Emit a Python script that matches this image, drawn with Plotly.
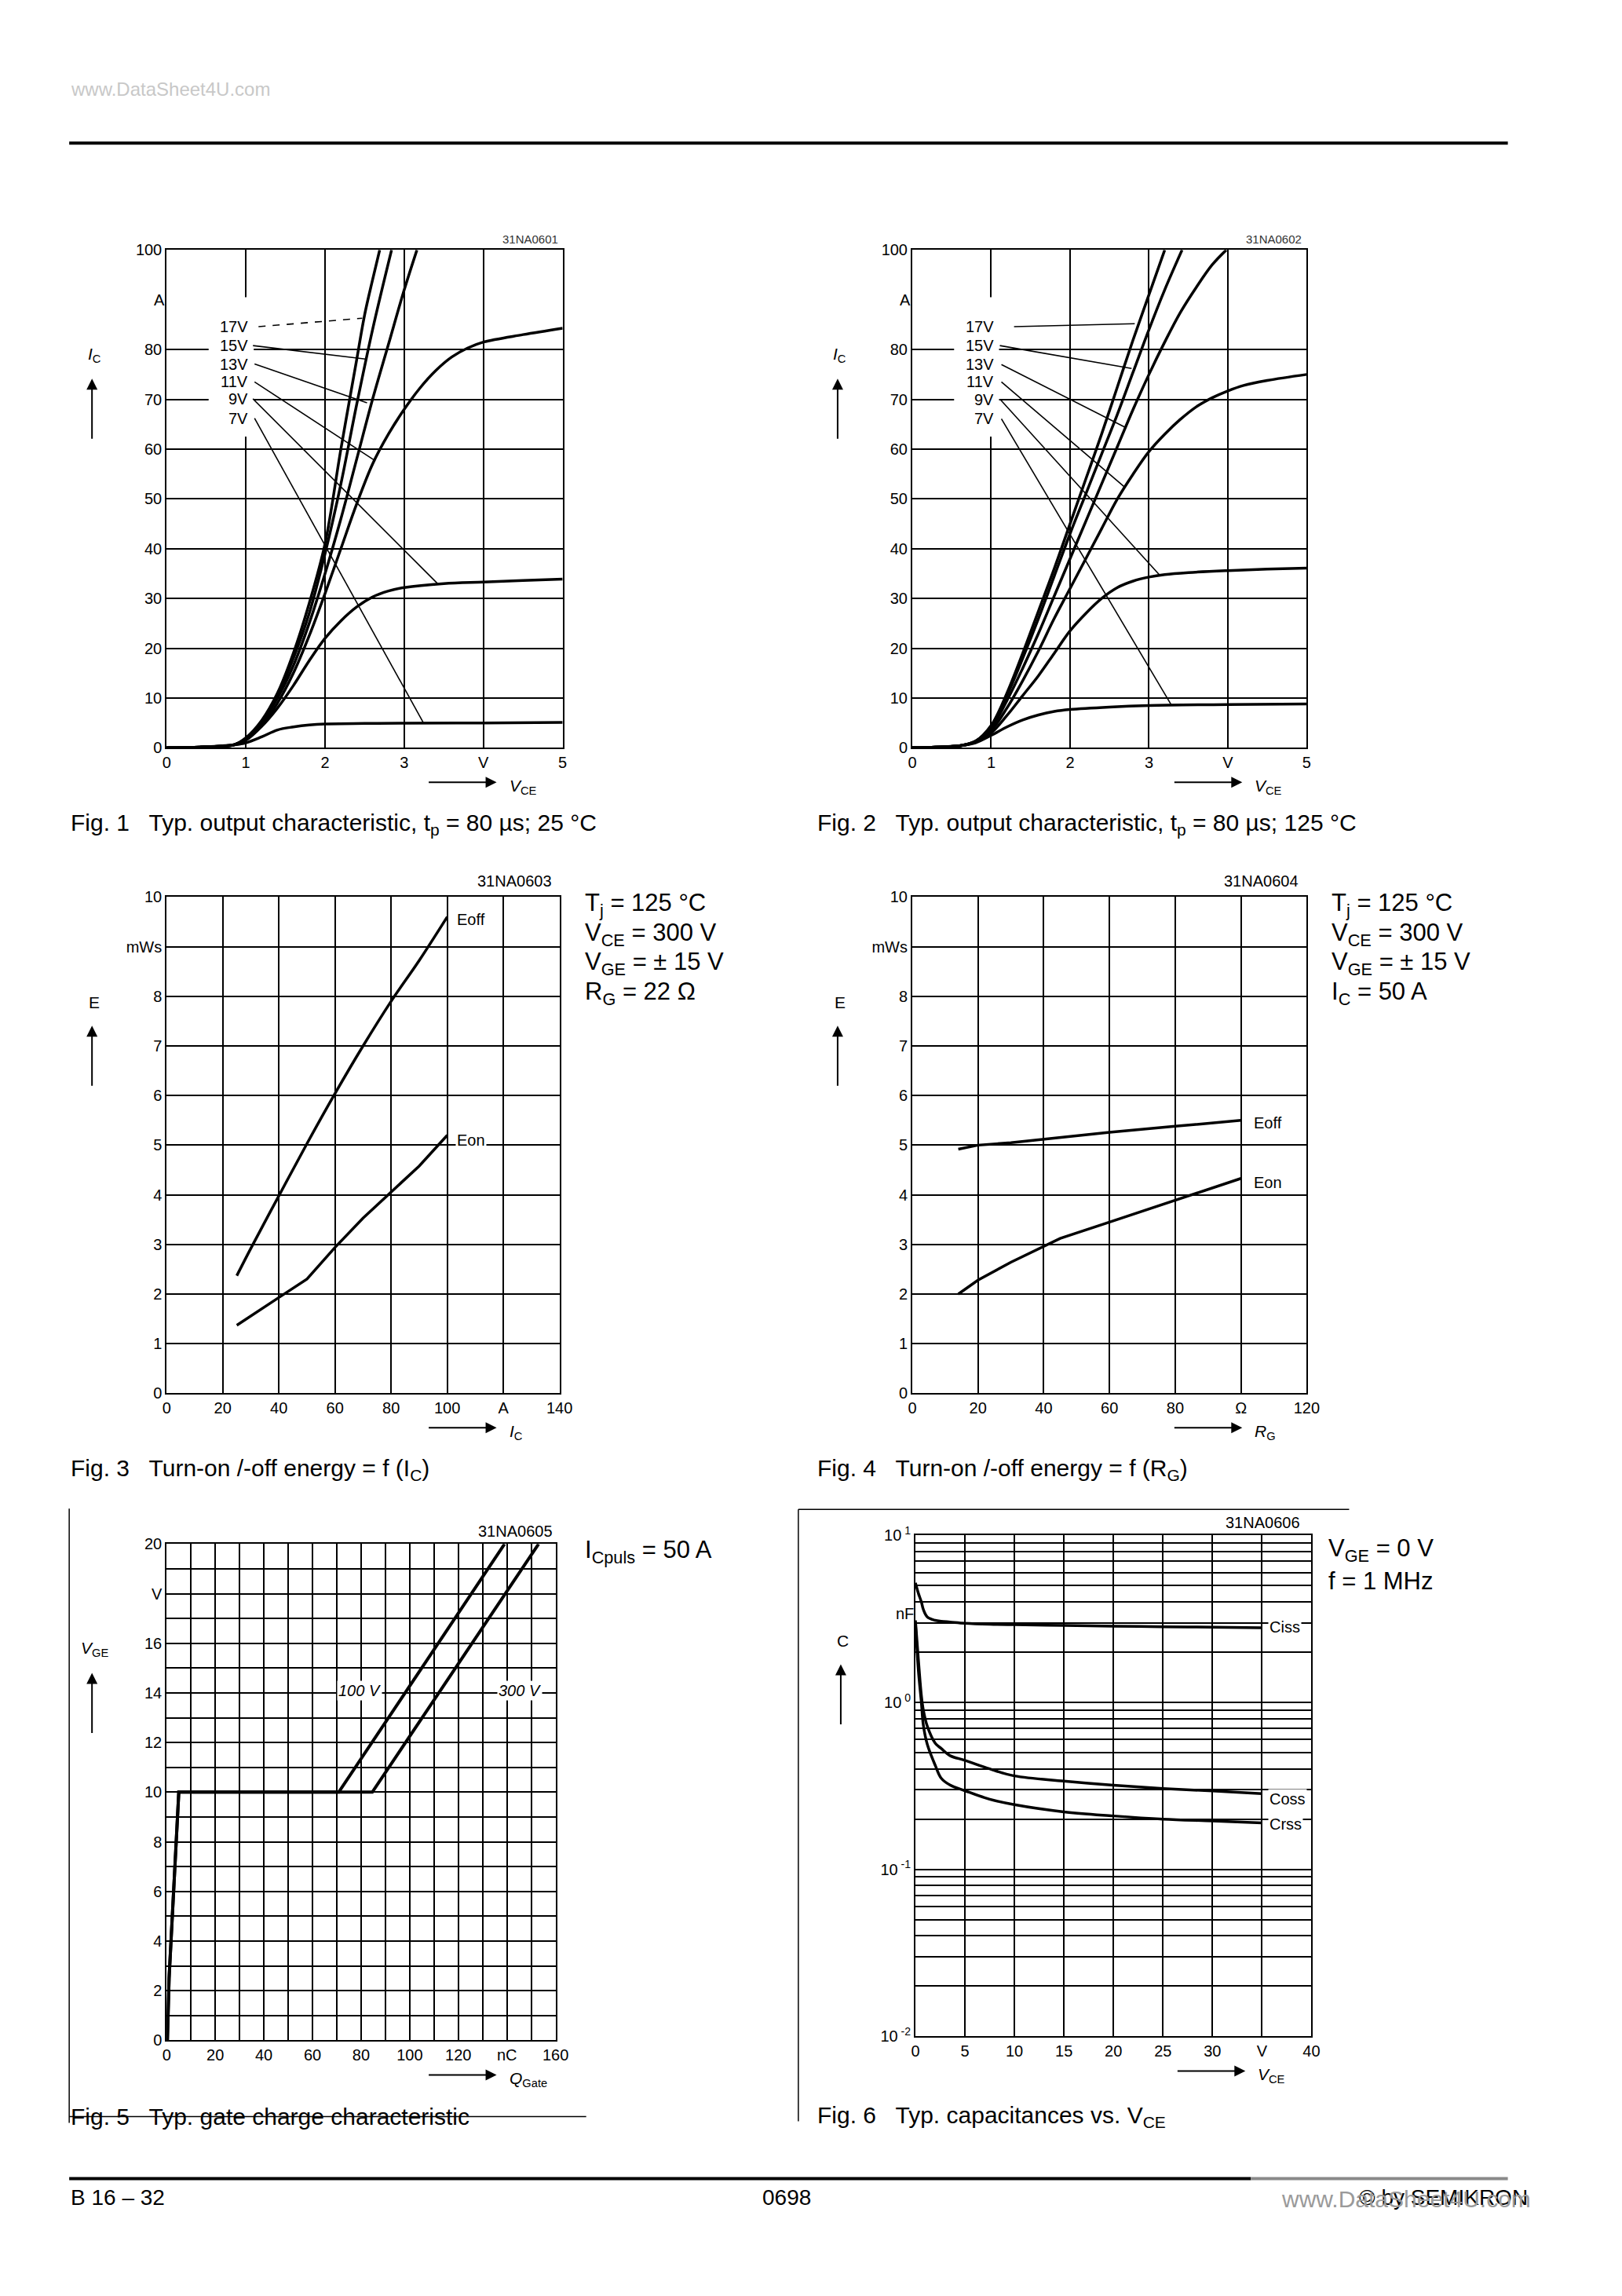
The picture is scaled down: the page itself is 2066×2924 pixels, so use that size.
import plotly.graph_objects as go

W, H = 2066, 2924
OFF = 8                      # default body margin of the html page
FW, FH = W - 2 * OFF, H - 2 * OFF
# measured page -> screenshot mapping (screen = A + S * page)
SX, AX = 0.988, 8.0
SY, AY = 0.9914, 12.7
FONT = "Liberation Sans, Arial, Helvetica, sans-serif"
NARROW = "Liberation Sans Narrow, Liberation Sans, Arial, sans-serif"

# ============================================================================
# DATA
# ============================================================================

# Fig. 1 - output characteristic, 25 degC  (V_CE in V, I_C in A)
VGE_LABELS = ["17V", "15V", "13V", "11V", "9V", "7V"]

F1_V17 = [0, 0.5, 0.85, 1.0, 1.2, 1.4, 1.6, 1.8, 2.0, 2.2, 2.4, 2.5, 2.6, 2.69]
F1_I17 = [0, 0.2, 0.6, 2.0, 5.5, 11, 19, 29, 41, 60, 78, 87, 94, 100]
F1_V15 = [0, 0.5, 0.85, 1.0, 1.2, 1.4, 1.6, 1.8, 2.0, 2.2, 2.4, 2.6, 2.84]
F1_I15 = [0, 0.2, 0.6, 1.9, 5.2, 10.5, 18, 27, 39, 53, 69, 84, 100]
F1_V13 = [0, 0.5, 0.85, 1.0, 1.2, 1.4, 1.6, 1.8, 2.0, 2.2, 2.4, 2.6, 2.8, 3.0, 3.16]
F1_I13 = [0, 0.2, 0.6, 1.8, 5, 10, 16.5, 25, 35, 46, 58, 70, 81, 92, 100]
F1_V11 = [0, 0.5, 0.85, 1.0, 1.2, 1.4, 1.6, 1.8, 2.0, 2.2, 2.4, 2.6, 2.8, 3.0, 3.2, 3.4,
          3.6, 3.8, 4.0, 4.5, 5.0]
F1_I11 = [0, 0.2, 0.6, 1.7, 4.5, 9, 15, 22.5, 31, 40, 49, 57, 63, 68, 72.3, 75.8,
          78.5, 80.3, 81.5, 83, 84.3]
F1_V9 = [0, 0.5, 0.85, 1.0, 1.2, 1.4, 1.6, 1.8, 2.0, 2.2, 2.4, 2.6, 2.8, 3.0, 3.5, 4.0, 4.5, 5.0]
F1_I9 = [0, 0.2, 0.6, 1.5, 4.3, 8, 12.5, 17.5, 22, 25.5, 28.3, 30.3, 31.5, 32.2, 33, 33.3, 33.6, 33.9]
F1_V7 = [0, 0.5, 0.85, 1.0, 1.2, 1.4, 1.6, 1.8, 2.0, 2.5, 3.0, 4.0, 5.0]
F1_I7 = [0, 0.2, 0.6, 1.0, 2.2, 3.6, 4.2, 4.6, 4.8, 4.9, 4.95, 5.0, 5.1]

# label leader lines (from label to curve), fig. 1
F1_LEAD_X0 = [1.16, 1.09, 1.11, 1.11, 1.09, 1.11]
F1_LEAD_Y0 = [84.6, 80.8, 77.1, 73.5, 70.1, 66.2]
F1_LEAD_X1 = [2.47, 2.51, 2.53, 2.62, 3.42, 3.24]
F1_LEAD_Y1 = [86.3, 78.1, 69.3, 57.8, 33.0, 5.1]

# Fig. 2 - output characteristic, 125 degC
F2_V17 = [0, 0.3, 0.6, 0.8, 1.0, 1.2, 1.4, 1.6, 1.8, 2.0, 2.2, 2.4, 2.6, 2.8, 3.0, 3.2]
F2_I17 = [0, 0.15, 0.4, 1.3, 4.5, 11, 19, 27.5, 36, 45, 54, 63, 72.5, 82, 91, 100]
F2_V15 = [0, 0.3, 0.6, 0.8, 1.0, 1.2, 1.4, 1.6, 1.8, 2.0, 2.2, 2.4, 2.6, 2.8, 3.0, 3.2, 3.42]
F2_I15 = [0, 0.15, 0.4, 1.3, 4.3, 10.5, 18, 26, 34.5, 43, 51, 59, 67, 75.5, 84, 92, 100]
F2_V13 = [0, 0.3, 0.6, 0.8, 1.0, 1.2, 1.4, 1.6, 1.8, 2.0, 2.2, 2.4, 2.6, 2.8, 3.0, 3.2, 3.4,
          3.6, 3.8, 3.98]
F2_I13 = [0, 0.15, 0.4, 1.3, 4, 9.5, 16, 23, 30.5, 38, 45.5, 53, 60.5, 68, 75, 81.5, 87.5,
          92.5, 97, 100]
F2_V11 = [0, 0.3, 0.6, 0.8, 1.0, 1.2, 1.4, 1.6, 1.8, 2.0, 2.2, 2.4, 2.6, 2.8, 3.0, 3.2, 3.4,
          3.6, 3.8, 4.0, 4.2, 4.5, 5.0]
F2_I11 = [0, 0.15, 0.4, 1.3, 3.5, 8, 13.5, 19.5, 26, 32, 38, 44, 50, 55, 59.5, 63, 66,
          68.5, 70.3, 71.7, 72.8, 73.8, 75]
F2_V9 = [0, 0.3, 0.6, 0.8, 1.0, 1.2, 1.4, 1.6, 1.8, 2.0, 2.2, 2.4, 2.6, 2.8, 3.0, 3.2, 3.5,
         4.0, 4.5, 5.0]
F2_I9 = [0, 0.15, 0.4, 1.2, 3, 6.5, 10.5, 14.5, 19, 23.5, 27, 30, 32.2, 33.5, 34.3, 34.8, 35.2,
         35.6, 35.9, 36.1]
F2_V7 = [0, 0.3, 0.6, 0.8, 1.0, 1.2, 1.4, 1.6, 1.8, 2.0, 2.5, 3.0, 4.0, 5.0]
F2_I7 = [0, 0.15, 0.4, 1.0, 2.5, 4.2, 5.6, 6.6, 7.3, 7.7, 8.2, 8.5, 8.7, 8.8]

F2_LEAD_X0 = [1.29, 1.11, 1.13, 1.13, 1.12, 1.13]
F2_LEAD_Y0 = [84.6, 80.8, 77.0, 73.5, 69.9, 66.1]
F2_LEAD_X1 = [2.82, 2.78, 2.71, 2.69, 3.13, 3.28]
F2_LEAD_Y1 = [85.2, 76.2, 64.3, 52.4, 34.8, 8.7]

# Fig. 3 - switching energy vs I_C (A, mWs)
F3_IC = [25, 30, 40, 50, 60, 70, 80, 90, 100]
F3_EOFF = [2.37, 2.92, 3.98, 5.03, 6.04, 7.0, 7.9, 8.72, 9.6]
F3_EON = [1.37, 1.56, 1.93, 2.3, 2.94, 3.53, 4.05, 4.58, 5.2]

# Fig. 4 - switching energy vs R_G (Ohm, mWs)
F4_RG = [14, 20, 30, 40, 45, 60, 80, 100]
F4_EOFF = [4.92, 5.0, 5.05, 5.12, 5.15, 5.26, 5.38, 5.5]
F4_EON = [2.0, 2.28, 2.64, 2.96, 3.12, 3.45, 3.89, 4.33]

# Fig. 5 - gate charge (nC, V)
F5_Q100 = [0, 0.3, 1, 3, 5, 70.8, 139]
F5_V100 = [0, 0, 2.5, 6, 10, 10, 20]
F5_Q300 = [0, 0.3, 1, 3, 5, 84.6, 153]
F5_V300 = [0, 0, 2.5, 6, 10, 10, 20]

# Fig. 6 - capacitances (V, nF)
F6_VCE = [0, 0.3, 0.6, 0.8, 1.2, 2, 2.6, 3.5, 5, 7.5, 10, 15, 20, 25, 30, 35]
F6_CISS = [5.2, 4.5, 4.0, 3.6, 3.25, 3.1, 3.06, 3.03, 2.98, 2.94, 2.92, 2.89, 2.86, 2.84, 2.82, 2.8]
F6_COSS = [3.1, 1.8, 1.1, 0.9, 0.72, 0.57, 0.53, 0.48, 0.45, 0.4, 0.363, 0.338, 0.319, 0.305, 0.295, 0.284]
F6_CRSS = [3.0, 1.55, 1.0, 0.73, 0.56, 0.42, 0.352, 0.32, 0.296, 0.263, 0.244, 0.221, 0.209, 0.2, 0.195, 0.19]

# tick labels
F12_XT = [0, 1, 2, 3, 4, 5]
F12_XL = ["0", "1", "2", "3", "V", "5"]
F12_YT = [0, 10, 20, 30, 40, 50, 60, 70, 80, 100]
F12_YL = ["0", "10", "20", "30", "40", "50", "60", "70", "80", "100"]
F3_XT = [0, 20, 40, 60, 80, 100, 120, 140]
F3_XL = ["0", "20", "40", "60", "80", "100", "A", "140"]
F4_XT = [0, 20, 40, 60, 80, 100, 120]
F4_XL = ["0", "20", "40", "60", "80", "Ω", "120"]
F34_YT = [0, 1, 2, 3, 4, 5, 6, 7, 8, 9, 10]
F34_YL = ["0", "1", "2", "3", "4", "5", "6", "7", "8", "mWs", "10"]
F5_XT = list(range(0, 161, 10))
F5_XL = ["0", "", "20", "", "40", "", "60", "", "80", "", "100", "", "120", "", "nC", "", "160"]
F5_YT = list(range(0, 21))
F5_YL = ["0", "", "2", "", "4", "", "6", "", "8", "", "10", "", "12", "", "14", "", "16", "",
         "V", "", "20"]
F6_XT = [0, 5, 10, 15, 20, 25, 30, 35, 40]
F6_XL = ["0", "5", "10", "15", "20", "25", "30", "V", "40"]
F6_YT = [m * d for d in (0.01, 0.1, 1) for m in range(1, 10)] + [10]
F6_YL = [("10<sup> %d</sup>" % e if m == 1 else "") for e in (-2, -1, 0) for m in range(1, 10)] + ["10<sup> 1</sup>"]

# ============================================================================
# HELPERS
# ============================================================================

BOXES = {
    1: (214, 317, 718, 951),
    2: (1163, 317, 1665, 951),
    3: (214, 1141, 714, 1773),
    4: (1163, 1141, 1665, 1773),
    5: (214, 1965, 709, 2597),
    6: (1167, 1954, 1671, 2592),
}


def px(x):
    return ((x - AX) / SX - OFF) / FW


def py(y):
    return 1 - ((y - AY) / SY - OFF) / FH


def sfx(n):
    return "" if n == 1 else str(n)


def add_axes(fig, n, xr, yr, xt, xl, yt, yl, ylog=False, gw=2.0):
    l, t, r, b = BOXES[n]
    common = dict(showline=True, mirror=True, linecolor="black", linewidth=2,
                  ticks="", zeroline=False, showgrid=True, gridcolor="black",
                  gridwidth=gw, tickmode="array", fixedrange=True,
                  tickfont=dict(family=FONT, size=20, color="black"))
    fig.update_layout({
        f"xaxis{sfx(n)}": dict(domain=[px(l), px(r)], range=xr, anchor=f"y{sfx(n)}",
                               tickvals=xt, ticktext=xl, **common),
        f"yaxis{sfx(n)}": dict(domain=[py(b), py(t)], range=yr, anchor=f"x{sfx(n)}",
                               tickvals=yt, ticktext=yl,
                               type="log" if ylog else "linear", **common),
    })


def curve(fig, n, x, y, width=3.5, shape="linear"):
    fig.add_trace(go.Scatter(x=x, y=y, xaxis=f"x{sfx(n)}", yaxis=f"y{sfx(n)}",
                             mode="lines", line=dict(color="black", width=width, shape=shape),
                             showlegend=False, hoverinfo="skip"))


annotations = []
shapes = []


def text(s, x, y, size=20, xanchor="left", yanchor="middle", xref="paper", yref="paper",
         family=FONT, color="black", bg=None):
    a = dict(text=s, x=x, y=y, xref=xref, yref=yref, xanchor=xanchor, yanchor=yanchor,
             showarrow=False, font=dict(family=family, size=size, color=color))
    if bg:
        a.update(bgcolor=bg, borderpad=1)
    annotations.append(a)


def arrow(xh, yh, dx, dy):
    # head at (xh, yh) in page px; tail offset (dx, dy) in px
    annotations.append(dict(text="", x=px(xh), y=py(yh), xref="paper", yref="paper",
                            showarrow=True, ax=dx, ay=dy, arrowhead=2, arrowsize=1.4,
                            arrowwidth=2, arrowcolor="black"))


def pline(x0, y0, x1, y1, width=2, color="black"):
    shapes.append(dict(type="line", xref="paper", yref="paper", x0=px(x0), y0=py(y0),
                       x1=px(x1), y1=py(y1), line=dict(color=color, width=width)))


def axis_titles(n, ytitle, xtitle):
    l, t, r, b = BOXES[n]
    text(ytitle, px(l - 92), py(t + 134), size=21, xanchor="center")
    arrow(l - 95, t + 164, 0, 78)
    arrow(l + 420, b + 44, -88, 0)
    text(xtitle, px(l + 434), py(b + 50), size=21)


# ============================================================================
# FIGURE
# ============================================================================

fig = go.Figure()

# --- Fig. 1 / Fig. 2 -------------------------------------------------------
fig1_sets = [(F1_V17, F1_I17), (F1_V15, F1_I15), (F1_V13, F1_I13),
             (F1_V11, F1_I11), (F1_V9, F1_I9), (F1_V7, F1_I7)]
fig2_sets = [(F2_V17, F2_I17), (F2_V15, F2_I15), (F2_V13, F2_I13),
             (F2_V11, F2_I11), (F2_V9, F2_I9), (F2_V7, F2_I7)]
lead_sets = {1: (F1_LEAD_X0, F1_LEAD_Y0, F1_LEAD_X1, F1_LEAD_Y1),
             2: (F2_LEAD_X0, F2_LEAD_Y0, F2_LEAD_X1, F2_LEAD_Y1)}

for n, sets in ((1, fig1_sets), (2, fig2_sets)):
    add_axes(fig, n, [0, 5], [0, 100], F12_XT, F12_XL, F12_YT, F12_YL, gw=1.6)
    for vx, iy in sets:
        curve(fig, n, vx, iy, width=3.5, shape="spline")
    xr, yr = f"x{sfx(n)}", f"y{sfx(n)}"
    # white box behind the V_GE labels
    shapes.append(dict(type="rect", xref=xr, yref=yr, x0=0.53, x1=1.10, y0=62.5, y1=90.5,
                       fillcolor="white", line=dict(width=0), layer="above"))
    x0s, y0s, x1s, y1s = lead_sets[n]
    for k, lab in enumerate(VGE_LABELS):
        dash = "dash" if (n == 1 and k == 0) else "solid"
        shapes.append(dict(type="line", xref=xr, yref=yr, x0=x0s[k], y0=y0s[k],
                           x1=x1s[k], y1=y1s[k], layer="above",
                           line=dict(color="black", width=1.6, dash=dash)))
        text(lab, 1.05, y0s[k], size=20, xanchor="right", xref=xr, yref=yr)
    text("A", 0, 90, size=20, xanchor="right", xref=f"{xr} domain", yref=yr)
    axis_titles(n, "<i>I</i><sub>C</sub>", "<i>V</i><sub>CE</sub>")
    l, t, r, b = BOXES[n]
    text("31NA060%d" % n, px(r - 4), py(t - 14), size=15, xanchor="right",
         color="#333333")

# --- Fig. 3 ------------------------------------------------------------------
add_axes(fig, 3, [0, 140], [0, 10], F3_XT, F3_XL, F34_YT, F34_YL, gw=2.4)
curve(fig, 3, F3_IC, F3_EOFF, width=3.5, shape="spline")
curve(fig, 3, F3_IC, F3_EON, width=3.5)
text("Eoff", 103, 9.55, size=20, xref="x3", yref="y3", bg="white")
text("Eon", 103, 5.1, size=20, xref="x3", yref="y3", bg="white")
axis_titles(3, "E", "<i>I</i><sub>C</sub>")

# --- Fig. 4 ------------------------------------------------------------------
add_axes(fig, 4, [0, 120], [0, 10], F4_XT, F4_XL, F34_YT, F34_YL, gw=2.4)
curve(fig, 4, F4_RG, F4_EOFF, width=3.5)
curve(fig, 4, F4_RG, F4_EON, width=3.5)
text("Eoff", 103.5, 5.45, size=20, xref="x4", yref="y4", bg="white")
text("Eon", 103.5, 4.25, size=20, xref="x4", yref="y4", bg="white")
axis_titles(4, "E", "<i>R</i><sub>G</sub>")

for n in (3, 4):
    l, t, r, b = BOXES[n]
    text("31NA060%d" % n, px(r - 8), py(t - 20), size=20, xanchor="right")
    cond = ["T<sub>j</sub> = 125 °C", "V<sub>CE</sub> = 300 V",
            "V<sub>GE</sub> = ± 15 V",
            "R<sub>G</sub> = 22 Ω" if n == 3 else "I<sub>C</sub> = 50 A"]
    for k, s in enumerate(cond):
        text(s, px(r + 30), py(t + 10 + 37.5 * k), size=31)

# --- Fig. 5 ------------------------------------------------------------------
add_axes(fig, 5, [0, 160], [0, 20], F5_XT, F5_XL, F5_YT, F5_YL, gw=2.4)
curve(fig, 5, F5_Q100, F5_V100, width=4)
curve(fig, 5, F5_Q300, F5_V300, width=4)
text("<i>100 V</i>", 70, 14.1, size=20, xref="x5", yref="y5", bg="white")
text("<i>300 V</i>", 136, 14.1, size=20, xref="x5", yref="y5", bg="white")
axis_titles(5, "<i>V</i><sub>GE</sub>", "<i>Q</i><sub>Gate</sub>")
l, t, r, b = BOXES[5]
text("31NA0605", px(r - 2), py(t - 16), size=20, xanchor="right")
text("I<sub>Cpuls</sub> = 50 A", px(r + 35), py(t + 10), size=31)

# --- Fig. 6 ------------------------------------------------------------------
add_axes(fig, 6, [0, 40], [-2, 1], F6_XT, F6_XL, F6_YT, F6_YL, ylog=True, gw=2.4)
curve(fig, 6, F6_VCE, F6_CISS, width=3.5, shape="spline")
curve(fig, 6, F6_VCE, F6_COSS, width=3.5, shape="spline")
curve(fig, 6, F6_VCE, F6_CRSS, width=3.5, shape="spline")
text("Ciss", 35.6, 0.45, size=20, xref="x6", yref="y6", bg="white")
text("Coss", 35.6, -0.58, size=20, xref="x6", yref="y6", bg="white")
text("Crss", 35.6, -0.73, size=20, xref="x6", yref="y6", bg="white")
text("nF", 0, 0.53, size=20, xanchor="right", xref="x6 domain", yref="y6")
axis_titles(6, "C", "<i>V</i><sub>CE</sub>")
l, t, r, b = BOXES[6]
text("31NA0606", px(r - 12), py(t - 16), size=20, xanchor="right")
text("V<sub>GE</sub> = 0 V", px(r + 20), py(t + 19), size=31)
text("f = 1 MHz", px(r + 20), py(t + 58), size=31)

# --- captions ----------------------------------------------------------------
captions = [
    (90, 1048, "Fig. 1   Typ. output characteristic, t<sub>p</sub> = 80 µs; 25 °C"),
    (1040, 1048, "Fig. 2   Typ. output characteristic, t<sub>p</sub> = 80 µs; 125 °C"),
    (90, 1870, "Fig. 3   Turn-on /-off energy = f (I<sub>C</sub>)"),
    (1040, 1870, "Fig. 4   Turn-on /-off energy = f (R<sub>G</sub>)"),
    (90, 2694, "Fig. 5   Typ. gate charge characteristic"),
    (1040, 2694, "Fig. 6   Typ. capacitances vs. V<sub>CE</sub>"),
]
for x, y, s in captions:
    text(s, px(x), py(y), size=30)

# --- page decoration ---------------------------------------------------------
text("www.DataSheet4U.com", px(90), py(112), size=24, family=NARROW, color="#c8c8c8")
pline(90, 181, 1921, 181, width=4)
pline(90, 2773, 1594, 2773, width=4)
pline(1594, 2773, 1921, 2773, width=4, color="#8a8a8a")
text("B 16 – 32", px(90), py(2797), size=28, family=NARROW)
text("0698", px(1003), py(2797), size=28, family=NARROW, xanchor="center")
text("© by SEMIKRON", px(1948), py(2797), size=28, family=NARROW, xanchor="right")
text("www.DataSheet4U.com", px(1952), py(2799), size=30, family=NARROW,
     xanchor="right", color="#9a9a9a")

# frame fragments around fig. 5 / fig. 6
pline(90, 1920, 90, 2702, width=1.5)
pline(90, 2694, 748, 2694, width=1.5)
pline(1018, 1921, 1018, 2700, width=1.5)
pline(1018, 1921, 1719, 1921, width=1.5)

fig.update_layout(
    width=FW, height=FH, autosize=False,
    margin=dict(l=0, r=0, t=0, b=0),
    paper_bgcolor="white", plot_bgcolor="white",
    showlegend=False,
    annotations=annotations, shapes=shapes,
    font=dict(family=FONT, color="black"),
)

fig.write_html("out.html")
